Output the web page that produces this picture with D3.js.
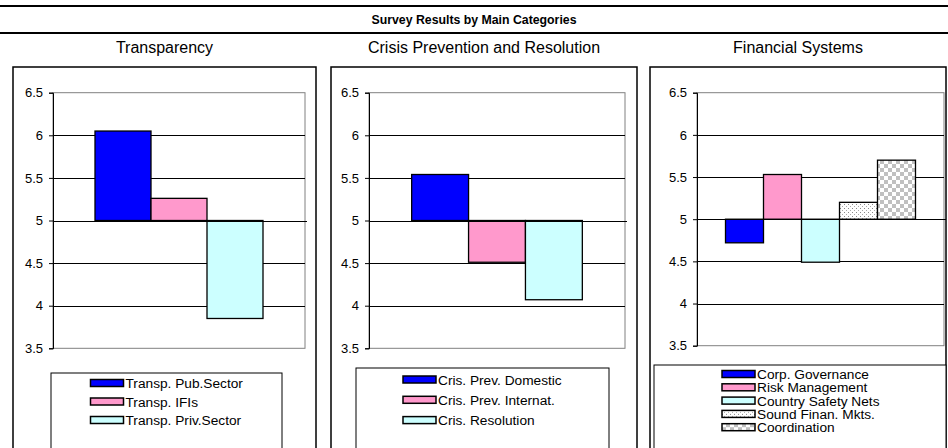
<!DOCTYPE html>
<html>
<head>
<meta charset="utf-8">
<script src="https://cdn.jsdelivr.net/npm/d3@7"></script>
<style>
  body { margin: 0; background: #fff; }
  svg { display: block; font-family: "Liberation Sans", Arial, sans-serif; }
</style>
</head>
<body>
<svg id="chart" width="948" height="448"></svg>
<script>
// donnees
const mainTitle = "Survey Results by Main Categories";
const panelTitles = ["Transparency", "Crisis Prevention and Resolution", "Financial Systems"];
const yTicks = [3.5, 4, 4.5, 5, 5.5, 6, 6.5];

const transpSeries = ["Transp. Pub.Sector", "Transp. IFIs", "Transp. Priv.Sector"];
const transpValues = [6.05, 5.26, 3.85];

const crisisSeries = ["Cris. Prev. Domestic", "Cris. Prev. Internat.", "Cris. Resolution"];
const crisisValues = [5.54, 4.51, 4.07];

const finSeries = ["Corp. Governance", "Risk Management", "Country Safety Nets", "Sound Finan. Mkts.", "Coordination"];
const finValues = [4.72, 5.53, 4.49, 5.20, 5.70];

const fills = ["#0000ff", "#ff99cc", "#ccffff", "url(#dots)", "url(#checker)"];

const svg = d3.select("#chart");

// motifs pour les deux dernieres series
const defs = svg.append("defs");
const dots = defs.append("pattern").attr("id", "dots")
  .attr("patternUnits", "userSpaceOnUse").attr("width", 4).attr("height", 4);
dots.append("rect").attr("width", 4).attr("height", 4).attr("fill", "#fff");
dots.append("rect").attr("x", 0).attr("y", 0).attr("width", 1).attr("height", 1).attr("fill", "#888");
dots.append("rect").attr("x", 2).attr("y", 2).attr("width", 1).attr("height", 1).attr("fill", "#aaa");
const checker = defs.append("pattern").attr("id", "checker")
  .attr("patternUnits", "userSpaceOnUse").attr("width", 8).attr("height", 8);
checker.append("rect").attr("width", 8).attr("height", 8).attr("fill", "#fff");
checker.append("rect").attr("width", 4).attr("height", 4).attr("fill", "#c0c0c0");
checker.append("rect").attr("x", 4).attr("y", 4).attr("width", 4).attr("height", 4).attr("fill", "#c0c0c0");

// bandeau du titre
svg.append("line").attr("x1", 0).attr("x2", 948).attr("y1", 6).attr("y2", 6)
  .attr("stroke", "#000").attr("stroke-width", 2);
svg.append("line").attr("x1", 0).attr("x2", 948).attr("y1", 33).attr("y2", 33)
  .attr("stroke", "#000").attr("stroke-width", 2);
svg.append("text").attr("x", 474).attr("y", 24).attr("text-anchor", "middle")
  .style("font-size", "12.3px").attr("font-weight", "bold").text(mainTitle);

// un panneau = cadre + graphique + legende
function drawPanel(p) {
  const g = svg.append("g");

  g.append("text").attr("x", (p.box[0] + p.box[1]) / 2).attr("y", 53)
    .attr("text-anchor", "middle").style("font-size", "16px").text(p.title);

  g.append("rect").attr("x", p.box[0]).attr("y", 67)
    .attr("width", p.box[1] - p.box[0]).attr("height", 400)
    .attr("fill", "none").attr("stroke", "#000").attr("stroke-width", 1.5);

  const y = d3.scaleLinear().domain([3.5, 6.5]).range([p.plotY[1], p.plotY[0]]);
  const x = d3.scaleBand().domain(p.series).range(p.plotX)
    .paddingInner(0).paddingOuter(0.75);

  // cadre gris de la zone de trace
  g.append("rect").attr("x", p.plotX[0]).attr("y", p.plotY[0])
    .attr("width", p.plotX[1] - p.plotX[0]).attr("height", p.plotY[1] - p.plotY[0])
    .attr("fill", "none").attr("stroke", "#808080");

  // grille
  g.selectAll(".grid").data(yTicks.filter(t => t > 3.5 && t < 6.5)).join("line")
    .attr("x1", p.plotX[0]).attr("x2", p.plotX[1])
    .attr("y1", d => Math.round(y(d)) + 0.5).attr("y2", d => Math.round(y(d)) + 0.5)
    .attr("stroke", "#000");

  // barres depuis 5
  g.selectAll(".bar").data(p.values).join("rect")
    .attr("x", (d, i) => x(p.series[i]))
    .attr("width", x.bandwidth())
    .attr("y", d => y(Math.max(d, 5)))
    .attr("height", d => Math.abs(y(d) - y(5)))
    .attr("fill", (d, i) => fills[i])
    .attr("stroke", "#000").attr("stroke-width", 1.3);

  // axe des categories a 5
  g.append("line").attr("x1", p.plotX[0]).attr("x2", p.plotX[1] + 2)
    .attr("y1", Math.round(y(5)) + 0.5).attr("y2", Math.round(y(5)) + 0.5)
    .attr("stroke", "#000");

  // axe vertical
  const axis = g.append("g").attr("transform", `translate(${p.plotX[0]},0)`)
    .call(d3.axisLeft(y).tickValues(yTicks).tickSize(4).tickPadding(6).tickFormat(d3.format("")));
  axis.attr("font-size", null).attr("font-family", null);
  axis.select(".domain").attr("stroke", "#000");
  axis.selectAll("text").style("font-size", "13px").attr("fill", "#000");

  // legende
  const L = p.legend;
  g.append("rect").attr("x", L.box[0]).attr("y", L.top)
    .attr("width", L.box[1] - L.box[0]).attr("height", 120)
    .attr("fill", "#fff").attr("stroke", "#000");
  const items = g.selectAll(".leg").data(p.series).join("g")
    .attr("transform", (d, i) => `translate(${L.swX},${L.y0 + i * L.step})`);
  items.append("rect").attr("x", 0).attr("y", -3.5).attr("width", 33).attr("height", 7)
    .attr("fill", (d, i) => fills[i]).attr("stroke", "#000").attr("stroke-width", 1.5);
  items.append("text").attr("x", 35).attr("y", 5).style("font-size", "13.7px").text(d => d);
}

drawPanel({
  title: panelTitles[0], series: transpSeries, values: transpValues,
  box: [13, 316], plotX: [53, 305], plotY: [92.7, 348.3],
  legend: { box: [51, 282], top: 373, swX: 90.5, y0: 383, step: 18.5 }
});
drawPanel({
  title: panelTitles[1], series: crisisSeries, values: crisisValues,
  box: [331, 637], plotX: [369, 625], plotY: [92.7, 348.3],
  legend: { box: [356, 609], top: 368, swX: 403, y0: 379.5, step: 20.3 }
});
drawPanel({
  title: panelTitles[2], series: finSeries, values: finValues,
  box: [650, 946], plotX: [697, 944], plotY: [92.7, 345.7],
  legend: { box: [654, 946], top: 365, swX: 722, y0: 374, step: 13.3 }
});
</script>
</body>
</html>
